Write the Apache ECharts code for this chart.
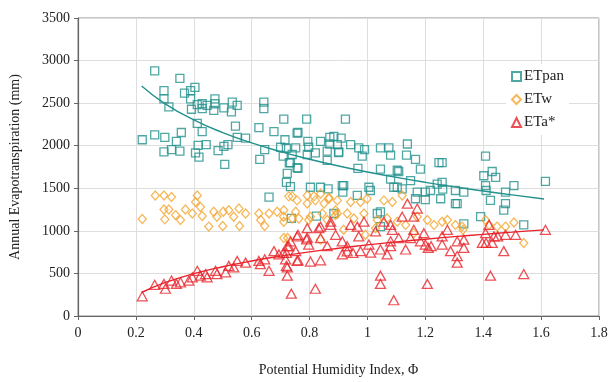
<!DOCTYPE html>
<html>
<head>
<meta charset="utf-8">
<script src="https://cdn.jsdelivr.net/npm/echarts@6/dist/echarts.min.js"></script>
<style>html,body{margin:0;padding:0;background:#fff}#c{width:613px;height:382px}</style>
</head>
<body>
<div id="c"></div>
<script>
const xTicks = [0, 0.2, 0.4, 0.6, 0.8, 1, 1.2, 1.4, 1.6, 1.8];
const yTicks = [0, 500, 1000, 1500, 2000, 2500, 3000, 3500];

const etpan = [
[0.265,2878],[0.352,2790],[0.297,2647],[0.297,2551],[0.314,2455],[0.368,2617],[0.389,2647],[0.404,2686],[0.389,2551],[0.412,2482],
[0.429,2493],[0.446,2474],[0.392,2428],[0.429,2436],[0.473,2551],[0.473,2493],[0.469,2416],[0.504,2444],[0.533,2513],[0.55,2474],
[0.53,2398],[0.642,2513],[0.642,2436],[0.412,2262],[0.429,2166],[0.544,2231],[0.55,2097],[0.579,2089],[0.625,2213],[0.677,2166],
[0.711,2312],[0.79,2312],[0.76,2155],[0.222,2070],[0.265,2128],[0.3,2097],[0.357,2155],[0.34,2051],[0.297,1928],[0.323,1955],
[0.352,1936],[0.406,1916],[0.418,1867],[0.415,2005],[0.443,2012],[0.484,1943],[0.504,1993],[0.518,2012],[0.507,1781],[0.628,1839],
[0.645,1955],[0.70,1982],[0.715,2070],[0.72,1970],[0.709,1878],[0.74,1897],[0.752,1974],[0.734,1801],[0.76,1735],[0.723,1674],
[0.794,2051],[0.797,1982],[0.792,1897],[0.838,2051],[0.87,2097],[0.87,2020],[0.861,1936],[0.861,1828],[0.896,2012],[0.9,1920],
[0.72,1570],[0.734,1520],[0.66,1397],[0.803,1512],[0.838,1512],[0.864,1493],[0.824,1174],[0.737,1146],
[0.924,2312],[1.138,2020],[1.408,1878],[1.258,1801],[0.884,2109],[0.757,2147],[0.909,2089],[0.901,1928],[0.942,2012],[0.97,1974],
[0.982,1878],[0.99,1955],[1.045,1974],[1.074,1974],[1.08,1889],[1.135,1889],[1.166,1839],[1.183,1724],[1.247,1801],[0.967,1735],
[1.045,1724],[1.108,1697],[0.82,1916],[0.757,1743],[0.73,1800],
[0.913,1532],[0.915,1455],[0.965,1416],[1.005,1512],[1.01,1474],[1.08,1608],[1.103,1712],[1.103,1512],[1.12,1493],[1.172,1455],
[1.166,1377],[1.2,1455],[1.2,1367],[1.241,1550],[1.034,1204],[1.045,1050],[0.884,1204],
[1.402,1647],[1.431,1697],[1.443,1628],[1.408,1532],[1.41,1474],[1.425,1358],[1.477,1455],[1.477,1320],[1.471,1243],[1.506,1532],
[1.615,1581],[1.54,1070],[1.391,1166],[1.258,1570],[1.26,1490],[1.253,1377],[1.304,1474],[1.304,1320],[1.333,1455],[1.218,1474],
[1.333,1082],[1.31,1320],[1.149,1590],[1.091,1512],[0.918,1532],[1.045,1224]
];

const etw = [
[0.222,1139],[0.267,1416],[0.297,1416],[0.323,1397],[0.412,1416],[0.406,1339],[0.297,1250],[0.314,1250],[0.3,1135],[0.337,1185],
[0.354,1128],[0.371,1250],[0.395,1204],[0.423,1281],[0.429,1174],[0.452,1050],[0.469,1224],[0.48,1166],[0.502,1224],[0.5,1058],
[0.521,1243],[0.538,1166],[0.556,1262],[0.558,1058],[0.579,1204],[0.625,1204],[0.631,1128],[0.645,1058],[0.66,1204],[0.688,1224],
[0.71,1166],[0.711,1108],[0.728,1405],[0.74,1405],[0.757,1358],[0.752,1224],[0.763,1146],[0.724,915],[0.792,1416],[0.792,1320],
[0.797,1128],[0.82,1358],[0.838,1435],[0.85,1320],[0.867,1377],[0.896,1204],[0.838,897],
[0.815,1405],[0.867,1389],[0.896,1358],[0.942,1339],[0.976,1339],[0.999,1377],[1.057,1358],[1.086,1339],[1.12,1416],[0.711,1243],
[0.74,1146],[0.803,1166],[0.844,1204],[0.861,1128],[0.89,1243],[0.93,1204],[0.953,1146],[0.988,1204],[1.034,1128],[1.028,1031],
[1.068,1146],[1.103,1108],[1.132,1070],[1.172,1166],[1.207,1128],[1.23,1070],[0.711,915],[0.918,1012],[0.993,954],[1.16,973],
[1.258,1108],[1.276,1128],[1.304,1070],[1.327,1050],[1.33,1012],[1.408,1128],[1.42,1070],[1.448,1050],[1.477,1050],[1.506,1097],
[1.54,858],[0.89,1185]
];

const eta = [
[0.222,231],[0.265,366],[0.297,377],[0.302,320],[0.323,416],[0.34,377],[0.354,396],[0.383,416],[0.395,454],[0.412,531],
[0.423,473],[0.441,493],[0.446,454],[0.475,531],[0.48,493],[0.51,512],[0.521,589],[0.538,570],[0.55,647],[0.579,627],
[0.625,647],[0.63,608],[0.645,666],[0.66,531],[0.677,762],[0.694,724],[0.71,740],[0.728,820],[0.734,877],[0.717,666],
[0.723,570],[0.723,473],[0.737,262],[0.752,762],[0.76,654],[0.76,954],[0.792,1031],[0.792,920],[0.797,839],[0.803,639],
[0.832,1031],[0.838,915],[0.838,654],[0.82,320],[0.861,820],[0.873,1070],[0.89,954],
[1.045,473],[1.045,377],[1.091,185],[1.207,377],[0.838,1050],[0.873,1108],[0.942,1070],[0.965,1050],[0.988,1108],[1.028,993],
[1.057,1108],[1.08,1070],[1.086,1012],[1.12,1166],[1.138,1320],[1.172,1262],[1.16,1166],[1.16,1012],[1.195,973],[0.757,935],
[0.79,900],[0.913,877],[0.93,820],[0.97,935],[1.005,839],[1.011,743],[1.045,781],[1.08,877],[1.08,820],[1.068,724],
[1.108,915],[1.132,781],[1.149,915],[1.183,877],[1.2,839],[1.21,800],[0.723,820],[0.72,740],[0.72,590],[0.757,647],
[0.913,724],[0.93,760],[0.95,740],[0.976,762],
[1.615,1012],[1.512,954],[1.477,954],[1.471,762],[1.425,473],[1.54,493],[1.42,1070],[1.408,973],[1.397,858],[1.41,858],
[1.431,858],[1.437,935],[1.45,935],[1.333,897],[1.333,800],[1.31,877],[1.31,704],[1.31,627],[1.287,762],[1.258,935],
[1.258,839],[1.276,1012],[1.22,820]
];

const etpanTrend = [
[0.22,2702],[0.3,2495],[0.4,2303],[0.5,2154],[0.6,2033],[0.7,1930],[0.8,1841],[0.9,1762],[1.0,1692],[1.1,1628],
[1.2,1570],[1.3,1517],[1.4,1468],[1.5,1422],[1.61,1374]
];
const etaTrend = [
[0.22,276],[0.3,391],[0.4,497],[0.5,579],[0.6,646],[0.7,703],[0.8,753],[0.9,796],[1.0,835],[1.1,870],
[1.2,902],[1.3,932],[1.4,959],[1.5,985],[1.61,1011]
];

const TEAL = '#23918d', ORANGE = '#f4a52e', RED = '#e8232b';
const FONT = '"Liberation Serif", "Times New Roman", serif';

const chart = echarts.init(document.getElementById('c'), null, {renderer: 'canvas'});
const hollow = (c) => ({color: 'rgba(255,255,255,0)', borderColor: c, borderWidth: 1.3});

chart.setOption({
  animation: false,
  backgroundColor: '#fff',
  grid: {left: 77.5, right: 14, top: 18, bottom: 61, show: true, borderColor: '#8c8c8c', borderWidth: 1},
  legend: {
    orient: 'vertical', left: 506, top: 64, itemGap: 8, itemWidth: 9, itemHeight: 9,
    data: ['ETpan', 'ETw', 'ETa*'],
    textStyle: {fontFamily: FONT, fontSize: 15, color: '#222', padding: [0, 0, 0, -2]},
    backgroundColor: '#fff'
  },
  xAxis: {
    type: 'value', min: xTicks[0], max: xTicks[xTicks.length - 1], interval: 0.2,
    name: 'Potential Humidity Index, Φ', nameLocation: 'middle', nameGap: 47,
    nameTextStyle: {fontFamily: FONT, fontSize: 14, color: '#222'},
    axisLine: {show: true, lineStyle: {color: '#666', width: 1.2}},
    axisTick: {show: true, length: 4, lineStyle: {color: '#666'}},
    axisLabel: {fontFamily: FONT, fontSize: 14, color: '#222', margin: 10,
      formatter: (v) => String(Math.round(v * 10) / 10)},
    splitLine: {show: true, lineStyle: {color: '#dedede', width: 1}}
  },
  yAxis: {
    type: 'value', min: yTicks[0], max: yTicks[yTicks.length - 1], interval: 500,
    name: 'Annual Evapotranspiration (mm)', nameLocation: 'middle', nameGap: 56,
    nameTextStyle: {fontFamily: FONT, fontSize: 14, color: '#222'},
    axisLine: {show: true, lineStyle: {color: '#666', width: 1.2}},
    axisTick: {show: true, length: 4, lineStyle: {color: '#666'}},
    axisLabel: {fontFamily: FONT, fontSize: 14, color: '#222', margin: 8,
      formatter: (v) => String(Math.round(v))},
    splitLine: {show: true, lineStyle: {color: '#dedede', width: 1}}
  },
  series: [
    {name: 'ETpan', type: 'scatter', data: etpan, symbol: 'rect', symbolSize: 8, itemStyle: hollow(TEAL)},
    {name: 'ETw', type: 'scatter', data: etw, symbol: 'diamond', symbolSize: [8, 9], itemStyle: hollow(ORANGE)},
    {name: 'ETa*', type: 'scatter', data: eta, symbol: 'triangle', symbolSize: [10, 9], itemStyle: hollow(RED)},
    {name: 'ETpan trend', type: 'line', data: etpanTrend, smooth: true, showSymbol: false, symbol: 'none',
     lineStyle: {color: TEAL, width: 1.4}, z: 5},
    {name: 'ETa trend', type: 'line', data: etaTrend, smooth: true, showSymbol: false, symbol: 'none',
     lineStyle: {color: RED, width: 1.4}, z: 5}
  ]
});
</script>
</body>
</html>
